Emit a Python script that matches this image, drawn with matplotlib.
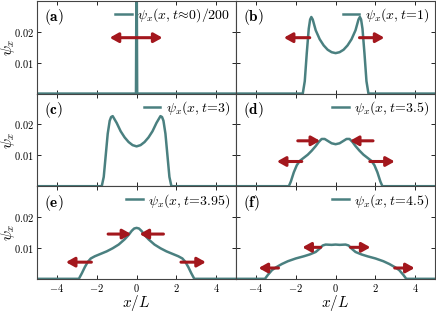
import numpy as np
import matplotlib
matplotlib.use("Agg")
import matplotlib.pyplot as plt

plt.rcParams['font.family'] = 'serif'
plt.rcParams['font.serif'] = ['cmr10', 'DejaVu Serif']
plt.rcParams['mathtext.fontset'] = 'cm'
plt.rcParams['axes.formatter.use_mathtext'] = True
plt.rcParams['axes.unicode_minus'] = True

LINE = '#4a8080'
ARROW = '#a3171d'

panel_tags = ['(a)', '(b)', '(c)', '(d)', '(e)', '(f)']
legend_labels = [
    r'$\psi_x(x,t\!\approx\!0)/200$',
    r'$\psi_x(x,t\!=\!1)$',
    r'$\psi_x(x,t\!=\!3)$',
    r'$\psi_x(x,t\!=\!3.5)$',
    r'$\psi_x(x,t\!=\!3.95)$',
    r'$\psi_x(x,t\!=\!4.5)$',
]

# curves
x_a = [-5, -0.03, 0.0, 0.03, 5]
y_a = [0, 0, 0.05, 0, 0]

x_b = [-5, -1.65, -1.55, -1.45, -1.35, -1.28, -1.22, -1.15, -1.0, -0.8, -0.6, -0.4, -0.2, 0,
       0.2, 0.4, 0.6, 0.8, 1.0, 1.15, 1.22, 1.28, 1.35, 1.45, 1.55, 1.65, 5]
y_b = [0, 0, 0.004, 0.013, 0.021, 0.0240, 0.0248, 0.0240, 0.0205, 0.0176, 0.0156, 0.0142, 0.0134, 0.0131,
       0.0134, 0.0142, 0.0156, 0.0176, 0.0205, 0.0240, 0.0248, 0.0240, 0.021, 0.013, 0.004, 0, 0]

x_c = [-5, -1.75, -1.65, -1.55, -1.45, -1.35, -1.28, -1.2, -1.0, -0.8, -0.6, -0.4, -0.2, 0,
       0.2, 0.4, 0.6, 0.8, 1.0, 1.2, 1.28, 1.35, 1.45, 1.55, 1.65, 1.75, 5]
y_c = [0, 0, 0.003, 0.010, 0.017, 0.0212, 0.0224, 0.0227, 0.0205, 0.0178, 0.0158, 0.0143, 0.0133, 0.0129,
       0.0133, 0.0143, 0.0158, 0.0178, 0.0205, 0.0227, 0.0224, 0.0212, 0.017, 0.010, 0.003, 0, 0]

x_d = [-5, -2.35, -2.25, -2.1, -1.95, -1.8, -1.6, -1.4, -1.2, -1.0, -0.85, -0.7, -0.55, -0.4, -0.2, 0,
       0.2, 0.4, 0.55, 0.7, 0.85, 1.0, 1.2, 1.4, 1.6, 1.8, 1.95, 2.1, 2.25, 2.35, 5]
y_d = [0, 0, 0.0015, 0.0045, 0.0068, 0.0082, 0.0092, 0.0102, 0.0115, 0.0130, 0.0143, 0.0153, 0.0153, 0.0147, 0.0139, 0.0136,
       0.0139, 0.0147, 0.0153, 0.0153, 0.0143, 0.0130, 0.0115, 0.0102, 0.0092, 0.0082, 0.0068, 0.0045, 0.0015, 0, 0]

x_e = [-5, -2.9, -2.75, -2.6, -2.45, -2.3, -2.1, -1.8, -1.5, -1.2, -0.9, -0.6, -0.4, -0.25, -0.12, 0,
       0.12, 0.25, 0.4, 0.6, 0.9, 1.2, 1.5, 1.8, 2.1, 2.3, 2.45, 2.6, 2.75, 2.9, 5]
y_e = [0, 0, 0.0018, 0.0038, 0.0055, 0.0066, 0.0073, 0.0081, 0.0089, 0.0099, 0.0111, 0.0128, 0.0142, 0.0155, 0.0163, 0.0165,
       0.0163, 0.0155, 0.0142, 0.0128, 0.0111, 0.0099, 0.0089, 0.0081, 0.0073, 0.0066, 0.0055, 0.0038, 0.0018, 0, 0]

x_f = [-5, -3.55, -3.4, -3.2, -3.0, -2.7, -2.4, -2.0, -1.6, -1.3, -1.0, -0.8, -0.65, -0.5, -0.2, 0,
       0.2, 0.5, 0.65, 0.8, 1.0, 1.3, 1.6, 2.0, 2.4, 2.7, 3.0, 3.2, 3.4, 3.55, 5]
y_f = [0, 0, 0.0013, 0.0028, 0.0037, 0.0048, 0.0057, 0.0066, 0.0073, 0.0079, 0.0087, 0.0098, 0.0108, 0.0111, 0.0110, 0.0111,
       0.0110, 0.0111, 0.0108, 0.0098, 0.0087, 0.0079, 0.0073, 0.0066, 0.0057, 0.0048, 0.0037, 0.0028, 0.0013, 0, 0]

curves = [(x_a, y_a), (x_b, y_b), (x_c, y_c), (x_d, y_d), (x_e, y_e), (x_f, y_f)]

# arrows: (tail x, head x, y, two heads?)
arrows = [
    [(-1.35, 1.3, 0.0181, True)],
    [(-1.3, -2.6, 0.0181, False), (1.2, 2.45, 0.0181, False)],
    [],
    [(-1.9, -0.78, 0.0147, False), (1.88, 0.72, 0.0147, False),
     (-1.7, -2.95, 0.0080, False), (1.72, 2.97, 0.0080, False)],
    [(-1.43, -0.27, 0.0145, False), (1.35, 0.15, 0.0145, False),
     (-2.27, -3.55, 0.0054, False), (2.23, 3.48, 0.0054, False)],
    [(-0.75, -1.67, 0.0102, False), (0.75, 1.75, 0.0102, False),
     (-2.87, -3.87, 0.0035, False), (2.97, 3.97, 0.0035, False)],
]

fig, axes = plt.subplots(3, 2, figsize=(4.36, 3.14), dpi=100, sharex=True, sharey=True)
fig.subplots_adjust(left=0.085, right=0.998, top=0.997, bottom=0.112, hspace=0, wspace=0)

for i, ax in enumerate(axes.flat):
    xs, ys = curves[i]
    ax.plot(xs, ys, color=LINE, lw=1.8, label=legend_labels[i], solid_joinstyle='round')
    for (x0, x1, yy, dbl) in arrows[i]:
        head = ',head_length=0.5,head_width=0.28'
        style = ('<|-|>' if dbl else '-|>') + head
        ax.annotate('', xy=(x1, yy), xytext=(x0, yy),
                    arrowprops=dict(arrowstyle=style, color=ARROW, lw=2.2,
                                    shrinkA=0, shrinkB=0))
    ax.set_xlim(-5, 5)
    ax.set_ylim(0, 0.03)
    ax.set_xticks([-4, -2, 0, 2, 4])
    ax.set_yticks([0.01, 0.02])
    ax.tick_params(direction='in', top=True, right=True, labelsize=7.5, length=3, width=0.6, pad=2.5)
    for sp in ax.spines.values():
        sp.set_linewidth(0.8)
        sp.set_color('#444444')
    ax.text(0.035, 0.93, r'$\mathbf{' + panel_tags[i] + '}$', transform=ax.transAxes,
            fontsize=11, va='top', ha='left')
    ax.legend(loc='upper right', frameon=False, fontsize=10, handlelength=1.2,
              handletextpad=0.4, borderaxespad=0.2, borderpad=0.2)
    if i % 2 == 0:
        ax.set_ylabel(r'$\psi_x$', fontsize=11)
        ax.yaxis.set_label_coords(-0.1, 0.5)
    if i >= 4:
        ax.set_xlabel(r'$x/L$', fontsize=11, labelpad=-1)

fig.savefig('out.png', dpi=100)
